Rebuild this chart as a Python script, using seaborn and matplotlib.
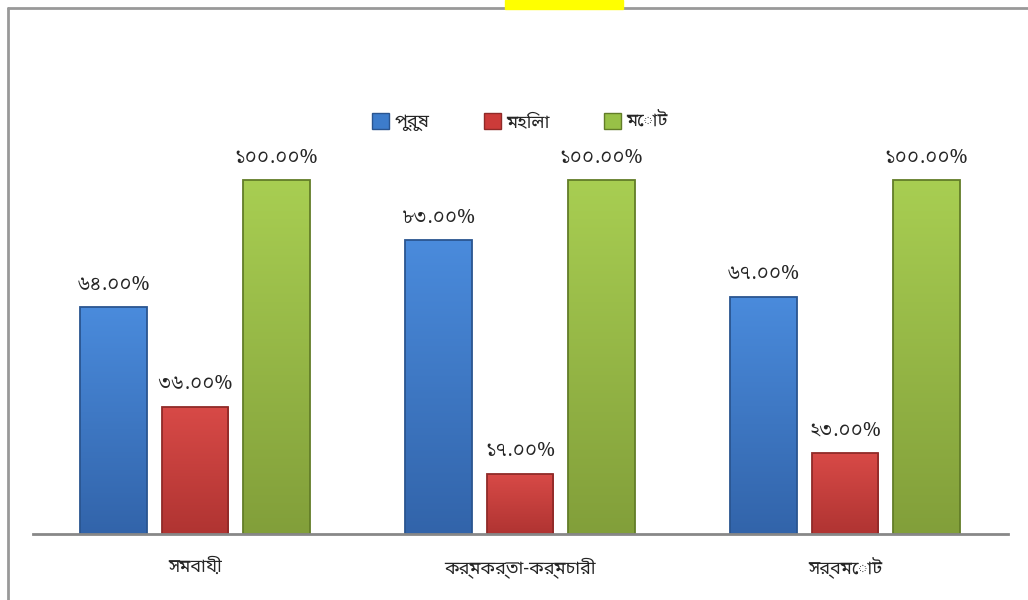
import matplotlib
matplotlib.use("Agg")
import matplotlib.pyplot as plt
from matplotlib.patches import Rectangle
from matplotlib.lines import Line2D
from matplotlib.colors import LinearSegmentedColormap
import numpy as np
import seaborn as sns
import pandas as pd

categories = ["সমবায়ী", "কর্মকর্তা-কর্মচারী", "সর্বমোট"]
series = ["পুরুষ", "মহিলা", "মোট"]
male = [64, 83, 67]
female = [36, 17, 23]
total = [100, 100, 100]
bn_digits = str.maketrans("0123456789", "০১২৩৪৫৬৭৮৯")

rows = []
for i, c in enumerate(categories):
    for s, vals in zip(series, [male, female, total]):
        rows.append({"cat": c, "series": s, "value": vals[i]})
df = pd.DataFrame(rows)

sns.set_style("white")
plt.rcParams["font.family"] = ["Noto Sans Bengali", "Noto Serif Bengali", "DejaVu Sans"]

fig = plt.figure(figsize=(10.28, 6.0), dpi=100)
ax = fig.add_axes([32.5 / 1028, 66 / 600, 975 / 1028, 0.649])

colors = ["#3D7CCB", "#CC3B39", "#98C147"]
tops = ["#4A8BDC", "#D84A47", "#A8CE52"]
bottoms = ["#3264AA", "#B03432", "#829F3A"]
edge = ["#2A5590", "#902A28", "#627D28"]

sns.barplot(data=df, x="cat", y="value", hue="series", palette=colors,
            width=0.75, gap=0.18, ax=ax, saturation=1, legend=False)

# vertical shading on each bar, roughly like the bevelled office bars
grad = np.linspace(0, 1, 128).reshape(-1, 1)
for cont, top, bot, ec in zip(ax.containers, tops, bottoms, edge):
    cm = LinearSegmentedColormap.from_list("g", [bot, top])
    for bar in cont:
        x0, w, h = bar.get_x(), bar.get_width(), bar.get_height()
        im = ax.imshow(grad, extent=[x0, x0 + w, 0, h], origin="lower",
                       aspect="auto", cmap=cm, zorder=1.5)
        im.set_clip_path(bar)
        bar.set_facecolor("none")
        bar.set_edgecolor(ec)
        bar.set_linewidth(1.3)
        bar.set_zorder(2)
    ax.bar_label(cont, labels=[f"{v:.2f}%".translate(bn_digits) for v in cont.datavalues],
                 padding=9, fontsize=14.5, family=["Noto Serif Bengali", "DejaVu Sans"])

ax.set_xlim(-0.5, 2.5)
ax.set_ylim(0, 110)
ax.set_xlabel("")
ax.set_ylabel("")
ax.set_yticks([])
for side in ["top", "right", "left"]:
    ax.spines[side].set_visible(False)
ax.spines["bottom"].set_color("#888888")
ax.spines["bottom"].set_linewidth(2)
ax.spines["bottom"].set_zorder(3)
ax.tick_params(axis="x", length=0, pad=17, labelsize=13)

handles = [Rectangle((0, 0), 1, 1, facecolor=c, edgecolor=e, lw=1) for c, e in zip(colors, edge)]
ax.legend(handles, series, loc="center", bbox_to_anchor=(520 / 1028, 1 - 122 / 600),
          bbox_transform=fig.transFigure, ncol=3, frameon=False, fontsize=13,
          handlelength=0.95, handleheight=0.95, columnspacing=3.0, handletextpad=0.3)

# outer frame and the yellow tab at the top
fig.add_artist(Line2D([8 / 1028, 1], [1 - 8 / 600, 1 - 8 / 600], color="#999999", lw=2))
fig.add_artist(Line2D([8 / 1028, 8 / 1028], [0, 1 - 8 / 600], color="#999999", lw=2))
fig.add_artist(Rectangle((505 / 1028, 1 - 9 / 600), 118 / 1028, 9 / 600,
                         transform=fig.transFigure, color="#FFFF00", zorder=5))

fig.savefig("out.png", dpi=100)
